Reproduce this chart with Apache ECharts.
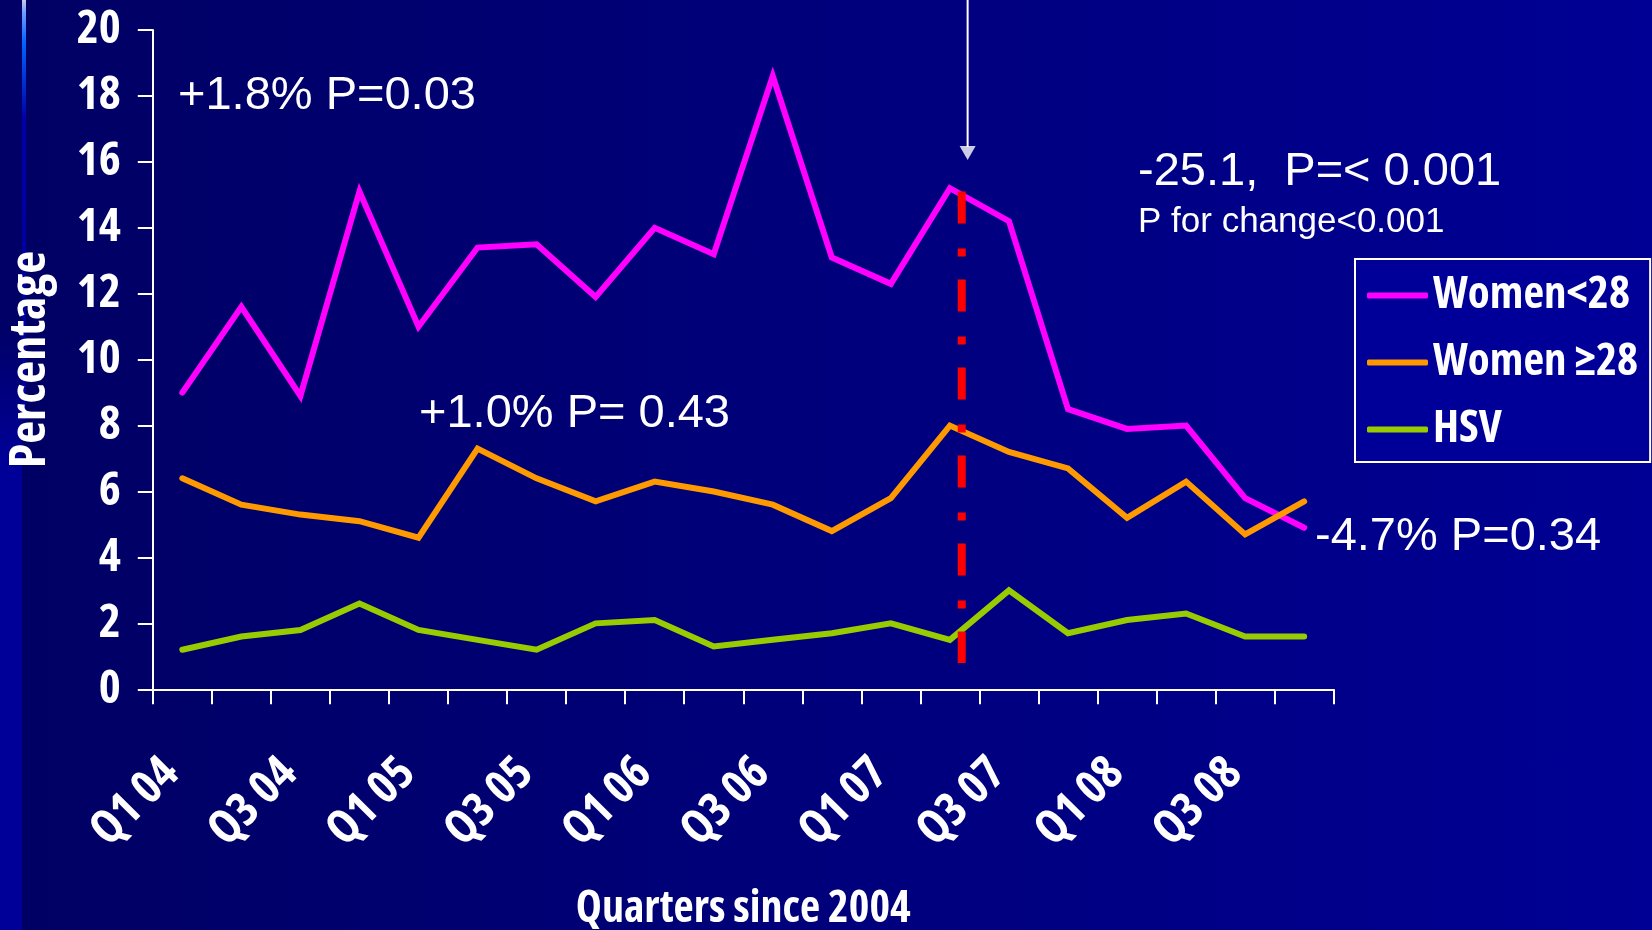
<!DOCTYPE html>
<html>
<head>
<meta charset="utf-8">
<title>Quarterly percentage by group, 2004–2008</title>
<script src="https://cdn.jsdelivr.net/npm/echarts@6/dist/echarts.min.js"></script>
<style>
  html, body { margin: 0; padding: 0; width: 1652px; height: 930px; overflow: hidden; }
  body { background: linear-gradient(to right, #000063 0%, #000094 100%); }
  #chart { width: 1652px; height: 930px; }
</style>
</head>
<body>
<div id="chart"></div>
<script>
// Quarter categories (labels shown on every second quarter)
const quarters = [
  'Q1 04', 'Q2 04', 'Q3 04', 'Q4 04',
  'Q1 05', 'Q2 05', 'Q3 05', 'Q4 05',
  'Q1 06', 'Q2 06', 'Q3 06', 'Q4 06',
  'Q1 07', 'Q2 07', 'Q3 07', 'Q4 07',
  'Q1 08', 'Q2 08', 'Q3 08', 'Q4 08'
];

// Percentages per quarter
const womenUnder28 = [9.0, 11.6, 8.9, 15.1, 11.0, 13.4, 13.5, 11.9, 14.0, 13.2,
                      18.6, 13.1, 12.3, 15.2, 14.2, 8.5, 7.9, 8.0, 5.8, 4.9];
const women28Plus  = [6.4, 5.6, 5.3, 5.1, 4.6, 7.3, 6.4, 5.7, 6.3, 6.0,
                      5.6, 4.8, 5.8, 8.0, 7.2, 6.7, 5.2, 6.3, 4.7, 5.7];
const hsv          = [1.2, 1.6, 1.8, 2.6, 1.8, 1.5, 1.2, 2.0, 2.1, 1.3,
                      1.5, 1.7, 2.0, 1.5, 3.0, 1.7, 2.1, 2.3, 1.6, 1.6];

const seriesNames = ['Women<28', 'Women \u226528', 'HSV'];
const seriesColors = ['#ff00ff', '#ff9900', '#99cc00'];

// Y axis scale
const yMin = 0, yMax = 20, yStep = 2;

// Intervention point (fractional quarter index) and the span of its marker line
const interventionX = 13.2;
const interventionSpan = [15.1, 0.8];
// Pointer arrow above the intervention
const arrowX = 13.3;
const arrowShaft = [20.95, 16.45];
const arrowHead = 16.27;

// Trend annotations
const notes = [
  { text: '+1.8% P=0.03', x: 178, y: 96, size: 47 },
  { text: '+1.0% P= 0.43', x: 419, y: 414, size: 47 },
  { text: '-25.1,  P=< 0.001', x: 1138, y: 172, size: 47 },
  { text: 'P for change<0.001', x: 1138, y: 222, size: 35 },
  { text: '-4.7% P=0.34', x: 1315, y: 537, size: 47 }
];

const plain = "'Liberation Sans', Arial, sans-serif";

// Pick a narrow bold face for the axis and legend text.
function pickNarrowFont() {
  const ctx = document.createElement('canvas').getContext('2d');
  const sample = '0123456789 Women Percentage';
  const measure = f => { ctx.font = f; return ctx.measureText(sample).width; };
  const base = measure('bold 100px monospace');
  const narrowFamilies = ["'Liberation Sans Narrow'", "'Arial Narrow'"];
  for (const fam of narrowFamilies) {
    const w = measure('bold 100px ' + fam + ', monospace');
    if (Math.abs(w - base) > 1) return { weight: 'bold', family: fam + ', sans-serif', scale: 1 };
  }
  const stretchable = ["'Noto Sans'", "'Open Sans'", 'Roboto', "'DejaVu Sans'"];
  for (const fam of stretchable) {
    const normal = measure('bold 100px ' + fam);
    const cond = measure('bold condensed 100px ' + fam);
    if (cond < normal * 0.93) return { weight: 'bold condensed', family: fam + ', sans-serif', scale: 1 };
  }
  return { weight: 'bold', family: "'Liberation Sans', Arial, sans-serif", scale: 0.84 };
}
const narrow = pickNarrowFont();
const fs = px => Math.round(px * narrow.scale);
const boldText = px => ({ color: '#ffffff', fontSize: fs(px), fontWeight: narrow.weight, fontFamily: narrow.family });

const chart = echarts.init(document.getElementById('chart'), null, { renderer: 'canvas' });

const lineSeries = [womenUnder28, women28Plus, hsv].map((vals, i) => ({
  name: seriesNames[i],
  type: 'line',
  data: vals,
  symbol: 'none',
  z: 3,
  lineStyle: { color: seriesColors[i], width: 6, cap: 'round', join: 'miter' },
  itemStyle: { color: seriesColors[i] }
}));

chart.setOption({
  animation: false,
  backgroundColor: 'transparent',
  graphic: [
    // left edge band
    {
      type: 'rect', left: 0, top: 0, z: -10,
      shape: { width: 22, height: 930 },
      style: {
        fill: new echarts.graphic.LinearGradient(0, 0, 0, 1, [
          { offset: 0, color: '#000066' },
          { offset: 0.35, color: '#000066' },
          { offset: 0.5, color: '#000099' },
          { offset: 1, color: '#000099' }
        ])
      }
    },
    // highlight strip
    {
      type: 'rect', left: 22, top: 0, z: -9,
      shape: { width: 4, height: 420 },
      style: {
        fill: new echarts.graphic.LinearGradient(0, 0, 0, 1, [
          { offset: 0, color: '#c8c8e8' },
          { offset: 0.03, color: '#6f9cff' },
          { offset: 0.1, color: '#0066ff' },
          { offset: 0.28, color: '#0000a8' },
          { offset: 0.8, color: '#00009c' },
          { offset: 1, color: '#000099' }
        ])
      }
    }
  ].concat(notes.map(n => ({
    type: 'text', left: n.x, top: n.y - n.size / 2, z: 10,
    style: {
      text: n.text, fill: '#ffffff',
      font: 'normal ' + n.size + 'px ' + plain
    }
  }))),
  legend: {
    data: seriesNames,
    orient: 'vertical',
    left: 1355, top: 259,
    padding: [14, 12, 10, 12],
    itemGap: 22,
    itemWidth: 61, itemHeight: 6,
    icon: 'roundRect',
    backgroundColor: '#000099',
    borderColor: '#ffffff',
    borderWidth: 2,
    textStyle: boldText(45)
  },
  grid: {
    left: 152.8, right: 318.3, top: 30, bottom: 240.7,
    containLabel: false, outerBoundsMode: 'none'
  },
  xAxis: [
    {
      type: 'category',
      data: quarters,
      boundaryGap: true,
      name: 'Quarters since 2004',
      nameLocation: 'middle',
      nameGap: 198,
      nameTextStyle: boldText(44),
      axisLine: { onZero: false, lineStyle: { color: '#ffffff', width: 2 } },
      axisTick: { show: true, interval: 0, length: 15, lineStyle: { color: '#ffffff', width: 2 } },
      axisLabel: Object.assign({ interval: 1, rotate: 45, margin: 66, padding: [0, 15, 0, 0] }, boldText(47)),
      splitLine: { show: false }
    },
    {
      type: 'value', min: -0.5, max: 19.5, show: false
    }
  ],
  yAxis: {
    type: 'value',
    min: yMin, max: yMax, interval: yStep,
    name: 'Percentage',
    nameLocation: 'middle',
    nameRotate: 90,
    nameGap: 97,
    nameTextStyle: boldText(50),
    axisLine: { show: true, onZero: false, lineStyle: { color: '#ffffff', width: 2 } },
    axisTick: { show: true, length: 15, lineStyle: { color: '#ffffff', width: 2 } },
    axisLabel: Object.assign({ margin: 32 }, boldText(47)),
    splitLine: { show: false }
  },
  series: lineSeries.concat([
    {
      name: 'intervention',
      type: 'line',
      xAxisIndex: 1,
      data: [[interventionX, interventionSpan[0]], [interventionX, interventionSpan[1]]],
      symbol: 'none',
      z: 5,
      silent: true,
      lineStyle: { color: '#ff0000', width: 8, type: [32, 25, 8, 23], cap: 'butt' }
    },
    {
      name: 'pointer',
      type: 'line',
      xAxisIndex: 1,
      clip: false,
      data: [[arrowX, arrowShaft[0]], [arrowX, arrowShaft[1]]],
      symbol: 'none',
      z: 5,
      silent: true,
      lineStyle: { color: '#ffffff', width: 2 }
    },
    {
      name: 'pointerHead',
      type: 'scatter',
      xAxisIndex: 1,
      clip: false,
      data: [[arrowX, arrowHead]],
      symbol: 'triangle',
      symbolRotate: 180,
      symbolSize: [16, 14],
      z: 5,
      silent: true,
      itemStyle: { color: '#ffffff' }
    }
  ])
});
</script>
</body>
</html>
